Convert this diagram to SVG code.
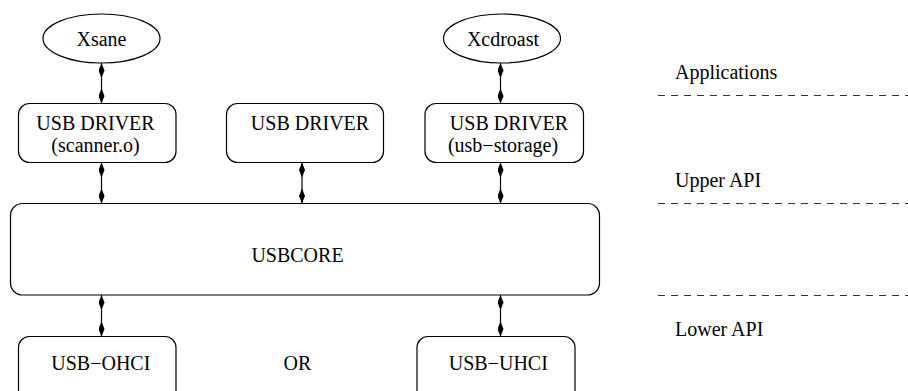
<svg xmlns="http://www.w3.org/2000/svg" width="908" height="391" viewBox="0 0 908 391">
<style>
  .shape { fill: #ffffff; stroke: #000000; stroke-width: 1.2; }
  .t { font-family: 'Liberation Serif', Tinos, 'Times New Roman', Times, 'DejaVu Serif', serif; font-size: 20px; fill: #000000; }
  .c { text-anchor: middle; }
  .conn { stroke: #000000; stroke-width: 1.2; fill: none; marker-start: url(#dia); marker-end: url(#dia); }
  .dash { stroke: #333333; stroke-width: 1; stroke-dasharray: 7 6; fill: none; }
</style>
<defs>
  <marker id="dia" viewBox="0 0 15 6" refX="15" refY="3" markerWidth="15" markerHeight="6" markerUnits="userSpaceOnUse" orient="auto-start-reverse">
    <path d="M0,3 L7.5,0 L15,3 L7.5,6 Z" fill="#000000"/>
  </marker>
</defs>
<rect width="908" height="391" fill="#ffffff"/>

<g id="xsane">
  <ellipse class="shape" cx="101.5" cy="38.5" rx="58.5" ry="24.5"/>
  <text class="t c" x="101.5" y="46">Xsane</text>
</g>
<g id="xcdroast">
  <ellipse class="shape" cx="502" cy="38.5" rx="58.5" ry="24.5"/>
  <text class="t c" x="503" y="46">Xcdroast</text>
</g>
<g id="driver-scanner">
  <rect class="shape" x="18.5" y="103.5" width="157.5" height="59" rx="11"/>
  <text class="t c" x="95.5" y="129.5">USB DRIVER</text>
  <text class="t c" x="95.5" y="151.5">(scanner.o)</text>
</g>
<g id="driver-mid">
  <rect class="shape" x="226.5" y="103.5" width="157" height="59" rx="11"/>
  <text class="t c" x="310" y="129.5">USB DRIVER</text>
</g>
<g id="driver-storage">
  <rect class="shape" x="425" y="103.5" width="158.5" height="59" rx="11"/>
  <text class="t c" x="509" y="129.5">USB DRIVER</text>
  <text class="t c" x="503" y="151.5">(usb−storage)</text>
</g>
<g id="usbcore">
  <rect class="shape" x="10.5" y="203.5" width="589" height="91.5" rx="12"/>
  <text class="t c" x="297.5" y="261.5">USBCORE</text>
</g>
<g id="ohci">
  <rect class="shape" x="18.5" y="336.5" width="157.5" height="70" rx="11"/>
  <text class="t c" x="100.8" y="369.5">USB−OHCI</text>
</g>
<g id="or">
  <text class="t c" x="297.5" y="370">OR</text>
</g>
<g id="uhci">
  <rect class="shape" x="417" y="336.5" width="158" height="70" rx="11"/>
  <text class="t c" x="498.3" y="369.5">USB−UHCI</text>
</g>

<g id="layers">
  <text class="t" x="675" y="78.5">Applications</text>
  <line class="dash" x1="658" y1="95.5" x2="908" y2="95.5"/>
  <text class="t" x="675" y="187">Upper API</text>
  <line class="dash" x1="658" y1="203.5" x2="908" y2="203.5"/>
  <line class="dash" x1="658" y1="295.5" x2="908" y2="295.5"/>
  <text class="t" x="675" y="336">Lower API</text>
</g>

<g id="connectors">
  <line class="conn" x1="101.5" y1="63" x2="101.5" y2="103.5"/>
  <line class="conn" x1="500.5" y1="63" x2="500.5" y2="103.5"/>
  <line class="conn" x1="101.5" y1="162.5" x2="101.5" y2="203.5"/>
  <line class="conn" x1="302" y1="162.5" x2="302" y2="203.5"/>
  <line class="conn" x1="500.5" y1="162.5" x2="500.5" y2="203.5"/>
  <line class="conn" x1="101.5" y1="295" x2="101.5" y2="336.5"/>
  <line class="conn" x1="500.5" y1="295" x2="500.5" y2="336.5"/>
</g>
</svg>
